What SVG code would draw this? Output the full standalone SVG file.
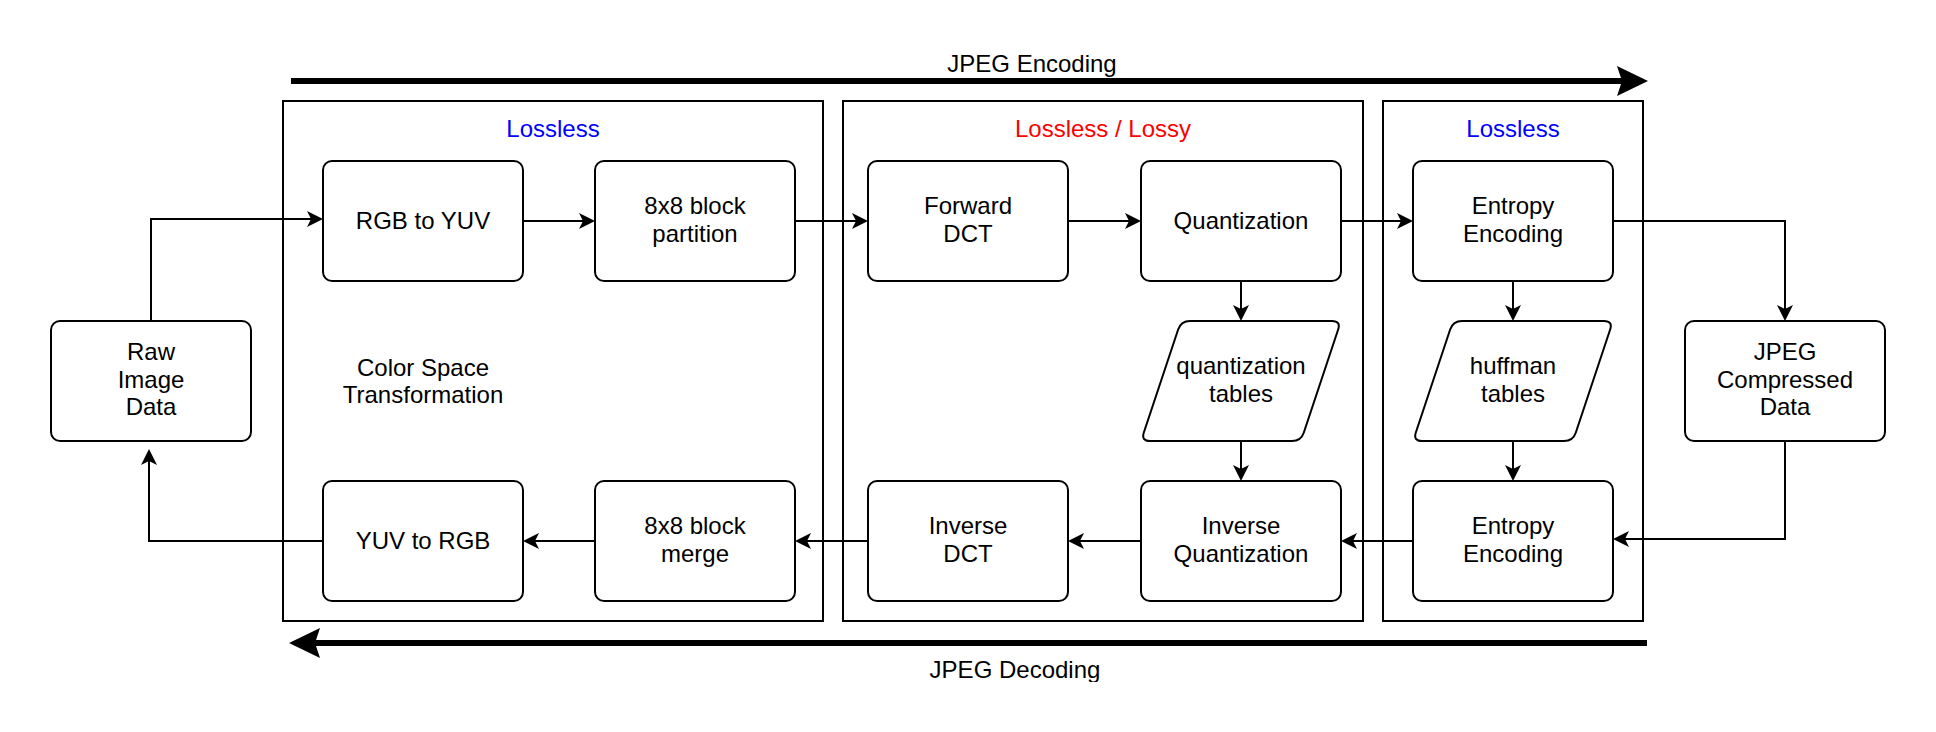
<svg xmlns="http://www.w3.org/2000/svg" xmlns:xlink="http://www.w3.org/1999/xlink" width="1936" height="732" viewBox="0 0 1936 732">
<style>
  .grp { fill: none; stroke: #000; stroke-width: 2; }
  .node { fill: #fff; stroke: #000; stroke-width: 2; }
  .t { font-family: "Liberation Sans", Arial, Helvetica, sans-serif; font-size: 24px; fill: #000; text-anchor: middle; }
  .blue { fill: #0000ff; }
  .red { fill: #ff0000; }
  .edge { fill: none; stroke: #000; stroke-width: 2; }
  .big { fill: none; stroke: #000; stroke-width: 6; }
</style>
<defs>
  <marker id="arr" viewBox="0 0 16 16" refX="4" refY="8" markerWidth="16" markerHeight="16" markerUnits="userSpaceOnUse" orient="auto">
    <path d="M0,0 L16,8 L0,16 L4,8 Z" fill="#000"/>
  </marker>
  <marker id="bigarr" viewBox="0 0 31 30" refX="5" refY="15" markerWidth="31" markerHeight="30" markerUnits="userSpaceOnUse" orient="auto">
    <path d="M0,0 L31,15 L0,30 L5,15 Z" fill="#000"/>
  </marker>
  <path id="para" d="M49,0 L191,0 Q200,0 197.15,8.54 L162.85,111.46 Q160,120 151,120 L9,120 Q0,120 2.85,111.46 L37.15,8.54 Q40,0 49,0 Z"/>
  <clipPath id="clipDec"><rect x="0" y="0" width="1936" height="682"/></clipPath>
</defs>
<rect width="1936" height="732" fill="#fff"/>

<g id="groups">
  <g id="group-color">
    <rect class="grp" x="283" y="101" width="540" height="520"/>
    <text class="t blue" x="553" y="137">Lossless</text>
    <text class="t" x="423" y="376">Color Space</text>
    <text class="t" x="423" y="403">Transformation</text>
  </g>
  <g id="group-dct">
    <rect class="grp" x="843" y="101" width="520" height="520"/>
    <text class="t red" x="1103" y="137">Lossless / Lossy</text>
  </g>
  <g id="group-entropy">
    <rect class="grp" x="1383" y="101" width="260" height="520"/>
    <text class="t blue" x="1513" y="137">Lossless</text>
  </g>
</g>

<g id="flow-labels">
  <g id="enc-arrow">
    <line class="big" x1="291" y1="81" x2="1622" y2="81" marker-end="url(#bigarr)"/>
    <text class="t" x="1032" y="72">JPEG Encoding</text>
  </g>
  <g id="dec-arrow">
    <line class="big" x1="1647" y1="643" x2="315" y2="643" marker-end="url(#bigarr)"/>
    <text class="t" x="1015" y="678" clip-path="url(#clipDec)">JPEG Decoding</text>
  </g>
</g>

<g id="connectors">
  <path class="edge" d="M151,321 L151,219 L311,219" marker-end="url(#arr)"/>
  <path class="edge" d="M523,221 L583,221" marker-end="url(#arr)"/>
  <path class="edge" d="M795,221 L856,221" marker-end="url(#arr)"/>
  <path class="edge" d="M1068,221 L1129,221" marker-end="url(#arr)"/>
  <path class="edge" d="M1341,221 L1401,221" marker-end="url(#arr)"/>
  <path class="edge" d="M1613,221 L1785,221 L1785,309" marker-end="url(#arr)"/>
  <path class="edge" d="M1241,281 L1241,309" marker-end="url(#arr)"/>
  <path class="edge" d="M1241,441 L1241,469" marker-end="url(#arr)"/>
  <path class="edge" d="M1513,281 L1513,309" marker-end="url(#arr)"/>
  <path class="edge" d="M1513,441 L1513,469" marker-end="url(#arr)"/>
  <path class="edge" d="M1785,441 L1785,539 L1625,539" marker-end="url(#arr)"/>
  <path class="edge" d="M1413,541 L1353,541" marker-end="url(#arr)"/>
  <path class="edge" d="M1141,541 L1080,541" marker-end="url(#arr)"/>
  <path class="edge" d="M868,541 L807,541" marker-end="url(#arr)"/>
  <path class="edge" d="M595,541 L535,541" marker-end="url(#arr)"/>
  <path class="edge" d="M323,541 L149,541 L149,461" marker-end="url(#arr)"/>
</g>

<g id="raw">
  <rect class="node" x="51" y="321" width="200" height="120" rx="9"/>
  <text class="t" x="151" y="360">Raw</text>
  <text class="t" x="151" y="387.5">Image</text>
  <text class="t" x="151" y="415">Data</text>
</g>
<g id="rgb2yuv">
  <rect class="node" x="323" y="161" width="200" height="120" rx="9"/>
  <text class="t" x="423" y="229">RGB to YUV</text>
</g>
<g id="partition">
  <rect class="node" x="595" y="161" width="200" height="120" rx="9"/>
  <text class="t" x="695" y="214">8x8 block</text>
  <text class="t" x="695" y="241.5">partition</text>
</g>
<g id="fdct">
  <rect class="node" x="868" y="161" width="200" height="120" rx="9"/>
  <text class="t" x="968" y="214">Forward</text>
  <text class="t" x="968" y="241.5">DCT</text>
</g>
<g id="quant">
  <rect class="node" x="1141" y="161" width="200" height="120" rx="9"/>
  <text class="t" x="1241" y="229">Quantization</text>
</g>
<g id="entropy-enc">
  <rect class="node" x="1413" y="161" width="200" height="120" rx="9"/>
  <text class="t" x="1513" y="214">Entropy</text>
  <text class="t" x="1513" y="241.5">Encoding</text>
</g>
<g id="qtables">
  <use xlink:href="#para" href="#para" x="1141" y="321" class="node"/>
  <text class="t" x="1241" y="374">quantization</text>
  <text class="t" x="1241" y="401.5">tables</text>
</g>
<g id="htables">
  <use xlink:href="#para" href="#para" x="1413" y="321" class="node"/>
  <text class="t" x="1513" y="374">huffman</text>
  <text class="t" x="1513" y="401.5">tables</text>
</g>
<g id="jpeg-data">
  <rect class="node" x="1685" y="321" width="200" height="120" rx="9"/>
  <text class="t" x="1785" y="360">JPEG</text>
  <text class="t" x="1785" y="387.5">Compressed</text>
  <text class="t" x="1785" y="415">Data</text>
</g>
<g id="yuv2rgb">
  <rect class="node" x="323" y="481" width="200" height="120" rx="9"/>
  <text class="t" x="423" y="549">YUV to RGB</text>
</g>
<g id="merge">
  <rect class="node" x="595" y="481" width="200" height="120" rx="9"/>
  <text class="t" x="695" y="534">8x8 block</text>
  <text class="t" x="695" y="561.5">merge</text>
</g>
<g id="idct">
  <rect class="node" x="868" y="481" width="200" height="120" rx="9"/>
  <text class="t" x="968" y="534">Inverse</text>
  <text class="t" x="968" y="561.5">DCT</text>
</g>
<g id="iquant">
  <rect class="node" x="1141" y="481" width="200" height="120" rx="9"/>
  <text class="t" x="1241" y="534">Inverse</text>
  <text class="t" x="1241" y="561.5">Quantization</text>
</g>
<g id="entropy-dec">
  <rect class="node" x="1413" y="481" width="200" height="120" rx="9"/>
  <text class="t" x="1513" y="534">Entropy</text>
  <text class="t" x="1513" y="561.5">Encoding</text>
</g>
</svg>
